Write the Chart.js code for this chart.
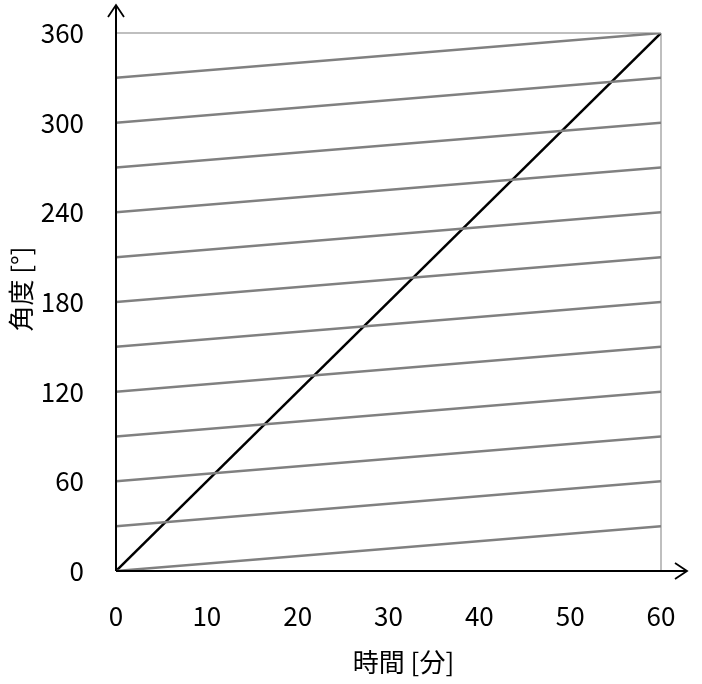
<!DOCTYPE html>
<html><head><meta charset="utf-8">
<script src="https://cdn.jsdelivr.net/npm/chart.js@4"></script>
<style>html,body{margin:0;padding:0;background:#fff}#wrap{width:702px;height:684px}</style>
</head><body><div id="wrap"><canvas id="c" width="702" height="684"></canvas></div>
<script>
const minuteX = [0, 60];
const minuteY = [0, 360];
const hourStartY = [0, 30, 60, 90, 120, 150, 180, 210, 240, 270, 300, 330];
const hourEndY = [30, 60, 90, 120, 150, 180, 210, 240, 270, 300, 330, 360];
const xTicks = [0, 10, 20, 30, 40, 50, 60];
const yTicks = [0, 60, 120, 180, 240, 300, 360];
const xTitle = '時間 [分]';
const yTitle = '角度 [°]';

const FONT = '"Noto Sans CJK JP", "Noto Sans", sans-serif';
const datasets = hourStartY.map((s, i) => ({
  data: [{x: minuteX[0], y: s}, {x: minuteX[1], y: hourEndY[i]}],
  borderColor: '#808080', borderWidth: 2.5, pointRadius: 0, fill: false
}));
datasets.push({
  data: minuteX.map((x, i) => ({x, y: minuteY[i]})),
  borderColor: '#000000', borderWidth: 2.5, pointRadius: 0, fill: false
});

const arrowAxes = {
  id: 'arrowAxes',
  afterDraw(chart) {
    const {ctx, scales: {x, y}, chartArea} = chart;
    const x0 = x.getPixelForValue(xTicks[0]);
    const y0 = y.getPixelForValue(yTicks[0]);
    const yTop = y.getPixelForValue(yTicks[yTicks.length - 1]) - 28;
    const xEnd = x.getPixelForValue(xTicks[xTicks.length - 1]) + 26;
    ctx.save();
    ctx.strokeStyle = '#000';
    ctx.lineWidth = 2;
    ctx.lineCap = 'butt';
    ctx.beginPath();
    ctx.moveTo(x0, y0); ctx.lineTo(x0, yTop);
    ctx.moveTo(x0, y0); ctx.lineTo(xEnd, y0);
    ctx.stroke();
    ctx.lineWidth = 1.8;
    ctx.beginPath();
    ctx.moveTo(x0 - 8, yTop + 12); ctx.lineTo(x0, yTop); ctx.lineTo(x0 + 8, yTop + 12);
    ctx.moveTo(xEnd - 12, y0 - 8); ctx.lineTo(xEnd, y0); ctx.lineTo(xEnd - 12, y0 + 8);
    ctx.stroke();
    // axis titles
    ctx.fillStyle = '#000';
    ctx.font = '26px ' + FONT;
    ctx.textAlign = 'center';
    ctx.textBaseline = 'middle';
    ctx.fillText(xTitle, (chartArea.left + chartArea.right) / 2 + 15, chartArea.bottom + 91);
    ctx.translate(21, (chartArea.top + chartArea.bottom) / 2 - 13);
    ctx.rotate(-Math.PI / 2);
    ctx.fillText(yTitle, 0, 0);
    ctx.restore();
  }
};

new Chart(document.getElementById('c'), {
  type: 'line',
  data: {datasets},
  options: {
    responsive: false,
    animation: false,
    events: [],
    layout: {padding: {top: 33, right: 41, bottom: 0, left: 0}},
    plugins: {legend: {display: false}, tooltip: {enabled: false}},
    scales: {
      x: {
        type: 'linear', min: xTicks[0], max: xTicks[xTicks.length - 1],
        afterBuildTicks: s => { s.ticks = xTicks.map(v => ({value: v})); },
        afterFit: s => { s.height = 113; s.paddingLeft = 0; s.paddingRight = 0; },
        border: {display: false},
        grid: {drawTicks: false, lineWidth: 2,
          color: c => c.tick && c.tick.value === xTicks[xTicks.length - 1] ? '#bfbfbf' : 'rgba(0,0,0,0)'},
        ticks: {color: '#000', padding: 30, font: {family: FONT, size: 26}, maxRotation: 0},
        title: {display: false}
      },
      y: {
        type: 'linear', min: yTicks[0], max: yTicks[yTicks.length - 1],
        afterBuildTicks: s => { s.ticks = yTicks.map(v => ({value: v})); },
        afterFit: s => { s.width = 116; s.paddingTop = 0; s.paddingBottom = 0; },
        border: {display: false},
        grid: {drawTicks: false, lineWidth: 2,
          color: c => c.tick && c.tick.value === yTicks[yTicks.length - 1] ? '#bfbfbf' : 'rgba(0,0,0,0)'},
        ticks: {color: '#000', padding: 32, font: {family: FONT, size: 26}},
        title: {display: false}
      }
    }
  },
  plugins: [arrowAxes]
});
</script></body></html>
